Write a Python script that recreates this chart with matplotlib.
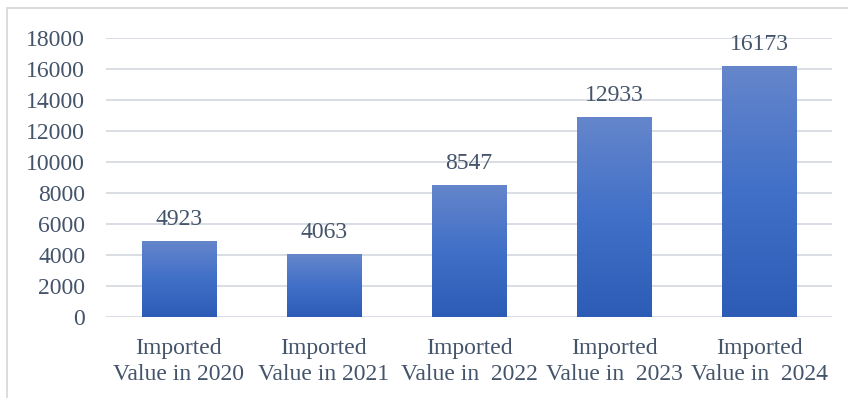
import matplotlib.pyplot as plt
import numpy as np
from matplotlib.colors import LinearSegmentedColormap
from matplotlib.patches import Rectangle

categories = ["Imported\nValue in 2020", "Imported\nValue in 2021", "Imported\nValue in  2022",
              "Imported\nValue in  2023", "Imported\nValue in  2024"]
values = [4923, 4063, 8547, 12933, 16173]
yticks = [0, 2000, 4000, 6000, 8000, 10000, 12000, 14000, 16000, 18000]

text_color = "#44546A"
fs = 17
plt.rcParams['font.family'] = ['Liberation Serif', 'DejaVu Serif']

W, H = 848, 398
fig = plt.figure(figsize=(W / 100, H / 100), dpi=100)
ax = fig.add_axes([106 / W, (H - 317) / H, (832 - 106) / W, (317 - 38) / H])

x = np.arange(len(values))
bars = ax.bar(x, values, width=0.51, color="none", zorder=3)

# vertical gradient inside every bar, lighter at the top
grad = LinearSegmentedColormap.from_list("bar", ["#2C5CB5", "#4170C8", "#6586CB"])
g = np.linspace(0, 1, 256).reshape(-1, 1)
for b in bars:
    x0, w, h = b.get_x(), b.get_width(), b.get_height()
    im = ax.imshow(g, cmap=grad, aspect="auto", origin="lower",
                   extent=[x0, x0 + w, 0, h], zorder=3)
    im.set_clip_path(b)

for xi, v in zip(x, values):
    ax.text(xi, v + 700, str(v), ha="center", va="bottom", fontsize=fs, color=text_color)

ax.set_xlim(-0.5, len(values) - 0.5)
ax.set_ylim(0, 18000)
ax.set_yticks(yticks)
ax.set_xticks(x)
ax.set_xticklabels(categories, fontsize=fs, color=text_color, linespacing=1.32)
ax.tick_params(axis="y", labelsize=fs, labelcolor=text_color, length=0, pad=15)
ax.tick_params(axis="x", length=0, pad=15)
ax.grid(axis="y", color="#D9DDE3", linewidth=1.4, zorder=0)
ax.set_axisbelow(True)
for s in ax.spines.values():
    s.set_visible(False)

# outer chart frame
fig.patches.append(Rectangle((7 / W, -0.1), 1.2, 1 - 8 / H + 0.1, transform=fig.transFigure,
                             fill=False, edgecolor="#D9D9D9", linewidth=1.3))

fig.savefig("out.png", dpi=100)
